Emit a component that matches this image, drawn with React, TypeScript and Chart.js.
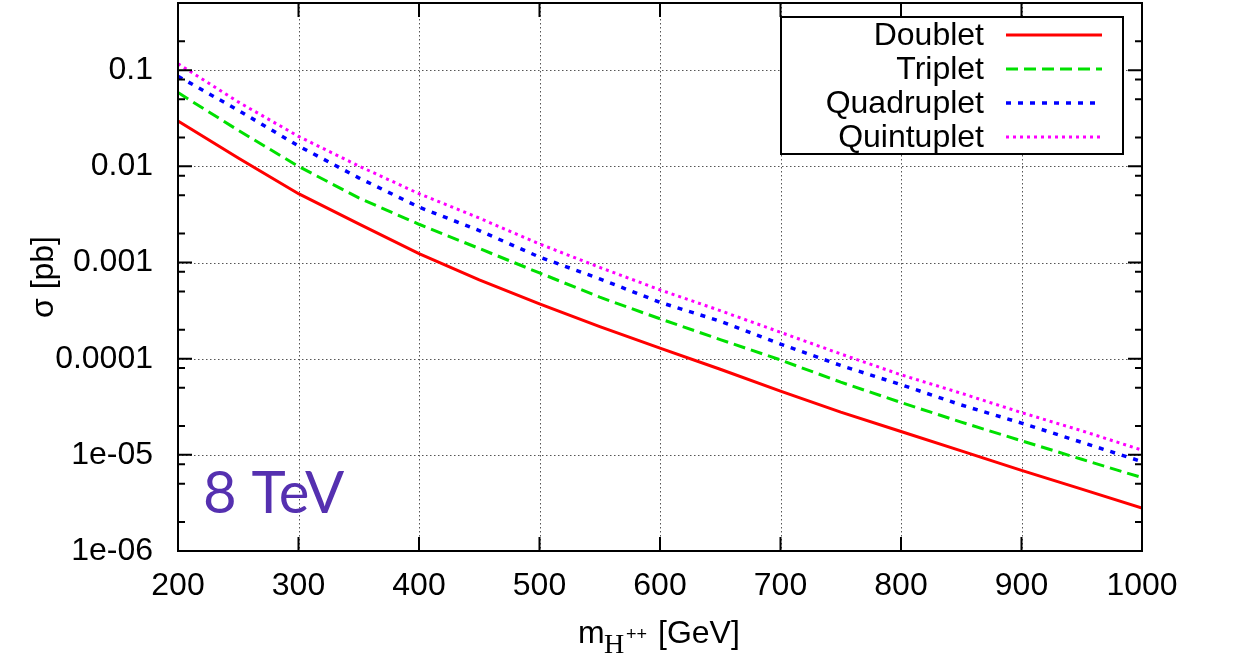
import React, { useEffect, useRef } from "react";
import { Chart, registerables } from "chart.js";

Chart.register(...registerables);

// ---- data ----
const masses = [200, 250, 300, 350, 400, 450, 500, 550, 600, 650, 700, 750, 800, 850, 900, 950, 1000];
const doublet = [0.0297, 0.0122, 0.0052, 0.00252, 0.00124, 0.00066, 0.000371, 0.000215, 0.000129, 7.76e-5, 4.6e-5, 2.78e-5, 1.75e-5, 1.1e-5, 6.9e-6, 4.4e-6, 2.8e-6];
const triplet = [0.0585, 0.0237, 0.01, 0.0047, 0.0025, 0.0014, 0.00078, 0.000436, 0.00026, 0.000158, 9.7e-5, 5.7e-5, 3.5e-5, 2.19e-5, 1.4e-5, 9.0e-6, 5.8e-6];
const quadruplet = [0.0866, 0.0383, 0.0163, 0.0076, 0.00377, 0.00215, 0.00114, 0.000676, 0.000386, 0.000245, 0.000142, 8.5e-5, 5.37e-5, 3.3e-5, 2.14e-5, 1.35e-5, 8.5e-6];
const quintuplet = [0.117, 0.0468, 0.0205, 0.0101, 0.0052, 0.0029, 0.00156, 0.00089, 0.00052, 0.000316, 0.000188, 0.000112, 6.8e-5, 4.37e-5, 2.75e-5, 1.78e-5, 1.12e-5];

const seriesNames = ["Doublet", "Triplet", "Quadruplet", "Quintuplet"];
const xTicks = [200, 300, 400, 500, 600, 700, 800, 900, 1000];
const xTickLabels = ["200", "300", "400", "500", "600", "700", "800", "900", "1000"];
const yMajorTicks = [1e-6, 1e-5, 1e-4, 1e-3, 1e-2, 1e-1];
const yTickLabels = ["1e-06", "1e-05", "0.0001", "0.001", "0.01", "0.1"];
const yMinorTicks = [
  2e-6, 5e-6, 8e-6, 2e-5, 5e-5, 8e-5, 2e-4, 5e-4, 8e-4,
  2e-3, 5e-3, 8e-3, 2e-2, 5e-2, 8e-2, 2e-1,
];
const xTitle = { main: "m", sub: "H", sup: "++", rest: "[GeV]" };
const yTitle = "σ [pb]";
const annotation = "8 TeV";

const FONT = '"Liberation Sans", Arial, Helvetica, sans-serif';
const FS = 32;

const overlayPlugin = {
  id: "overlay",
  beforeDatasetsDraw(chart: any) {
    const { ctx, chartArea: a, scales } = chart;
    const x = scales.x;
    const y = scales.y;
    ctx.save();
    ctx.strokeStyle = "#555";
    ctx.lineWidth = 1;
    ctx.setLineDash([1.5, 2.5]);
    ctx.beginPath();
    for (const v of xTicks) {
      if (v === xTicks[0] || v === xTicks[xTicks.length - 1]) continue;
      const px = Math.round(x.getPixelForValue(v)) + 0.5;
      ctx.moveTo(px, a.top);
      ctx.lineTo(px, a.bottom);
    }
    for (const v of yMajorTicks) {
      if (v === yMajorTicks[0]) continue;
      const py = Math.round(y.getPixelForValue(v)) + 0.5;
      ctx.moveTo(a.left, py);
      ctx.lineTo(a.right, py);
    }
    ctx.stroke();
    ctx.restore();
  },
  afterDatasetsDraw(chart: any) {
    const { ctx, chartArea: a, scales } = chart;
    const x = scales.x;
    const y = scales.y;
    ctx.save();
    ctx.setLineDash([]);
    ctx.strokeStyle = "#000";
    ctx.lineWidth = 2;
    const MAJ = 14;
    const MIN = 7;
    ctx.beginPath();
    for (const v of xTicks) {
      const px = x.getPixelForValue(v);
      ctx.moveTo(px, a.bottom);
      ctx.lineTo(px, a.bottom - MAJ);
      ctx.moveTo(px, a.top);
      ctx.lineTo(px, a.top + MAJ);
    }
    for (const v of yMajorTicks) {
      const py = y.getPixelForValue(v);
      ctx.moveTo(a.left, py);
      ctx.lineTo(a.left + MAJ, py);
      ctx.moveTo(a.right, py);
      ctx.lineTo(a.right - MAJ, py);
    }
    for (const v of yMinorTicks) {
      const py = y.getPixelForValue(v);
      ctx.moveTo(a.left, py);
      ctx.lineTo(a.left + MIN, py);
      ctx.moveTo(a.right, py);
      ctx.lineTo(a.right - MIN, py);
    }
    ctx.stroke();

    // legend
    const lx = 781, ly = 17, lw = 342, lh = 137;
    ctx.fillStyle = "#fff";
    ctx.fillRect(lx, ly, lw, lh);
    ctx.lineWidth = 2;
    ctx.strokeRect(lx, ly, lw, lh);
    ctx.font = `${FS}px ${FONT}`;
    ctx.textAlign = "right";
    ctx.textBaseline = "middle";
    chart.data.datasets.forEach((ds: any, i: number) => {
      const yy = 35 + i * 34;
      ctx.fillStyle = "#000";
      ctx.fillText(ds.label, 984, yy + 1);
      ctx.strokeStyle = ds.borderColor;
      ctx.lineWidth = ds.borderWidth;
      ctx.setLineDash(ds.borderDash || []);
      ctx.beginPath();
      ctx.moveTo(1006, yy);
      ctx.lineTo(1102, yy);
      ctx.stroke();
    });
    ctx.setLineDash([]);

    // frame
    ctx.strokeStyle = "#000";
    ctx.lineWidth = 2;
    ctx.strokeRect(a.left, a.top, a.right - a.left, a.bottom - a.top);

    // annotation
    ctx.fillStyle = "#5530b0";
    ctx.font = `58px Lato, "Open Sans", sans-serif`;
    ctx.textAlign = "left";
    ctx.textBaseline = "alphabetic";
    ctx.fillText(annotation, 203, 513);

    // x title
    ctx.fillStyle = "#000";
    ctx.textAlign = "left";
    const base = 643;
    ctx.font = `${FS}px ${FONT}`;
    ctx.fillText(xTitle.main, 578, base);
    ctx.font = `28px "Liberation Serif", "Times New Roman", serif`;
    ctx.fillText(xTitle.sub, 604, 653);
    ctx.font = `18px ${FONT}`;
    ctx.fillText(xTitle.sup, 626, 640);
    ctx.font = `${FS}px ${FONT}`;
    ctx.fillText(xTitle.rest, 658, base);

    // y title
    ctx.save();
    ctx.translate(53, 277);
    ctx.rotate(-Math.PI / 2);
    ctx.textAlign = "center";
    ctx.textBaseline = "alphabetic";
    ctx.font = `${FS}px ${FONT}`;
    ctx.fillText(yTitle, 0, 0);
    ctx.restore();

    ctx.restore();
  },
};

export default function App() {
  const ref = useRef<HTMLCanvasElement | null>(null);
  useEffect(() => {
    if (!ref.current) return;
    const mk = (vals: number[]) => masses.map((m, i) => ({ x: m, y: vals[i] }));
    const chart = new Chart(ref.current, {
      type: "line",
      data: {
        datasets: [
          { label: seriesNames[0], data: mk(doublet), borderColor: "#ff0000", borderWidth: 3, borderDash: [], pointRadius: 0, tension: 0, fill: false },
          { label: seriesNames[1], data: mk(triplet), borderColor: "#00e000", borderWidth: 3, borderDash: [12, 6], pointRadius: 0, tension: 0, fill: false },
          { label: seriesNames[2], data: mk(quadruplet), borderColor: "#0000ff", borderWidth: 3.5, borderDash: [5, 7], pointRadius: 0, tension: 0, fill: false },
          { label: seriesNames[3], data: mk(quintuplet), borderColor: "#ff00ff", borderWidth: 3, borderDash: [3, 4], pointRadius: 0, tension: 0, fill: false },
        ],
      },
      options: {
        animation: false,
        responsive: false,
        maintainAspectRatio: false,
        layout: { padding: { left: 0, top: 3, right: 94, bottom: 0 } },
        plugins: { legend: { display: false }, tooltip: { enabled: false } },
        scales: {
          x: {
            type: "linear",
            min: 200,
            max: 1000,
            grid: { display: false, drawTicks: false },
            border: { display: false },
            afterBuildTicks: (s: any) => { s.ticks = xTicks.map((v) => ({ value: v })); },
            afterFit: (s: any) => { s.height = 108; s.paddingLeft = 0; s.paddingRight = 0; },
            ticks: {
              color: "#000",
              font: { family: FONT, size: FS },
              padding: 16,
              maxRotation: 0,
              autoSkip: false,
              callback: (_v: any, i: number) => xTickLabels[i],
            },
          },
          y: {
            type: "logarithmic",
            min: 1e-6,
            max: 0.5,
            grid: { display: false, drawTicks: false },
            border: { display: false },
            afterBuildTicks: (s: any) => { s.ticks = yMajorTicks.map((v) => ({ value: v })); },
            afterFit: (s: any) => { s.width = 178; s.paddingTop = 0; s.paddingBottom = 0; },
            ticks: {
              color: "#000",
              font: { family: FONT, size: FS },
              padding: 25,
              autoSkip: false,
              callback: (_v: any, i: number) => yTickLabels[i],
            },
          },
        },
      },
      plugins: [overlayPlugin],
    });
    return () => chart.destroy();
  }, []);
  return (
    <div style={{ position: "fixed", left: 0, top: 0, width: 1236, height: 659, background: "#fff" }}>
      <canvas ref={ref} width={1236} height={659} style={{ display: "block" }} />
    </div>
  );
}
